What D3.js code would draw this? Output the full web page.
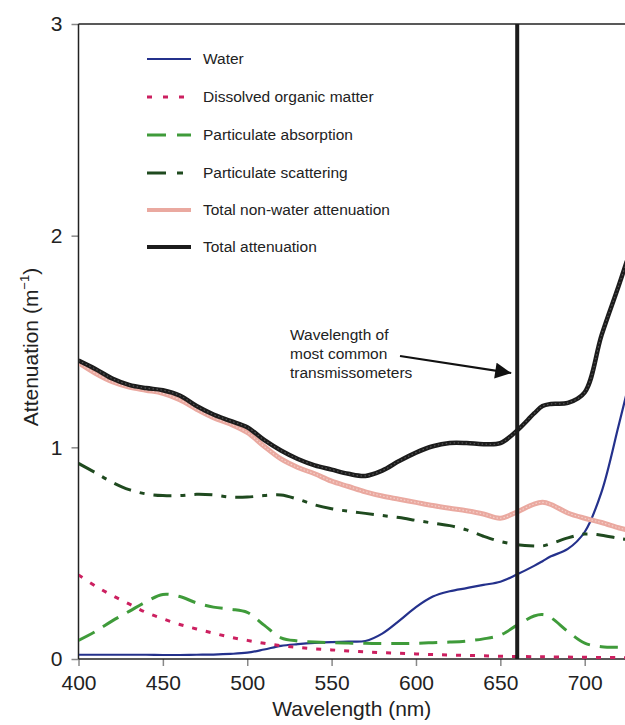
<!DOCTYPE html>
<html>
<head>
<meta charset="utf-8">
<script src="https://cdn.jsdelivr.net/npm/d3@7"></script>
<style>
  html, body { margin: 0; padding: 0; background: #fff; }
  svg { display: block; font-family: "Liberation Sans", Arial, Helvetica, sans-serif; }
</style>
</head>
<body>
<svg id="chart" width="625" height="725"></svg>
<script>
// ---------------- data ----------------
const wavelengths = [400,410,420,430,440,450,460,470,480,490,500,510,520,530,540,550,560,570,580,590,600,610,620,630,640,650,660,670,675,680,690,700,710,720,725];

const water = [0.020,0.020,0.020,0.020,0.020,0.019,0.019,0.020,0.021,0.024,0.030,0.045,0.062,0.070,0.076,0.080,0.082,0.085,0.120,0.180,0.245,0.295,0.320,0.335,0.350,0.365,0.400,0.440,0.462,0.485,0.520,0.600,0.790,1.100,1.260];

const dissolvedOrganic = [0.397,0.345,0.300,0.260,0.220,0.190,0.163,0.142,0.122,0.103,0.088,0.074,0.063,0.055,0.048,0.043,0.038,0.034,0.030,0.027,0.024,0.021,0.019,0.017,0.015,0.013,0.012,0.011,0.011,0.010,0.009,0.008,0.007,0.007,0.006];

const particulateAbsorption = [0.088,0.130,0.180,0.225,0.270,0.305,0.295,0.265,0.245,0.235,0.220,0.160,0.100,0.085,0.080,0.077,0.075,0.074,0.073,0.073,0.074,0.077,0.080,0.085,0.095,0.113,0.160,0.203,0.210,0.195,0.130,0.075,0.058,0.055,0.055];

const particulateScattering = [0.924,0.880,0.835,0.800,0.780,0.772,0.772,0.778,0.775,0.765,0.765,0.772,0.775,0.755,0.728,0.710,0.698,0.688,0.678,0.668,0.655,0.642,0.630,0.610,0.580,0.555,0.540,0.534,0.534,0.545,0.572,0.590,0.585,0.570,0.565];

const totalNonWater = [1.400,1.350,1.310,1.285,1.270,1.255,1.225,1.180,1.140,1.110,1.070,1.005,0.945,0.905,0.875,0.840,0.815,0.790,0.770,0.755,0.740,0.725,0.712,0.700,0.685,0.665,0.695,0.732,0.740,0.730,0.690,0.665,0.645,0.620,0.610];

const totalAttenuation = [1.410,1.370,1.325,1.295,1.280,1.270,1.245,1.195,1.155,1.125,1.095,1.035,0.985,0.945,0.915,0.895,0.875,0.865,0.890,0.935,0.975,1.005,1.020,1.020,1.015,1.020,1.080,1.160,1.195,1.205,1.210,1.260,1.530,1.760,1.880];

const xTicks = [400,450,500,550,600,650,700];
const yTicks = [0,1,2,3];
const markerWavelength = 660;

const seriesNames = ["Water","Dissolved organic matter","Particulate absorption","Particulate scattering","Total non-water attenuation","Total attenuation"];
const seriesValues = [water, dissolvedOrganic, particulateAbsorption, particulateScattering, totalNonWater, totalAttenuation];
const seriesColors = ["#24318c","#cc2060","#3f9b3a","#1f4a1f","#eaa9a0","#1c1c1c"];
const seriesDash = [null,"5,9","18,10","18,9,5,9",null,null];
const seriesWidth = [2.2,3,3,3,5,4.5];

const annotationLines = ["Wavelength of","most common","transmissometers"];

// ---------------- drawing ----------------
const svg = d3.select("#chart");
const x = d3.scaleLinear().domain([400, 724]).range([78.5, 625.2]);
const y = d3.scaleLinear().domain([0, 3]).range([659, 24]);

svg.append("defs").append("clipPath").attr("id","plotclip")
  .append("rect").attr("x", 79).attr("y", 0).attr("width", 546).attr("height", 659);

svg.append("defs").append("marker")
  .attr("id","arrowhead").attr("viewBox","0 0 10 10")
  .attr("refX",10).attr("refY",5)
  .attr("markerWidth",18).attr("markerHeight",16)
  .attr("markerUnits","userSpaceOnUse")
  .attr("orient","auto")
  .append("path").attr("d","M0,0 L10,5 L0,10 Z").attr("fill","#111");

// axes
const xAxis = d3.axisBottom(x).tickValues(xTicks).tickSize(7).tickPadding(9).tickSizeOuter(0).tickFormat(d3.format("d"));
const gx = svg.append("g").attr("transform", `translate(0,${y(0)})`).call(xAxis);
gx.select(".domain").remove();
gx.selectAll(".tick line").attr("stroke","#888").attr("stroke-width",1.5);
gx.selectAll(".tick text").attr("font-size", 21).attr("fill","#222");

const yAxis = d3.axisLeft(y).tickValues(yTicks).tickSize(7).tickPadding(9).tickSizeOuter(0).tickFormat(d3.format("d"));
const gy = svg.append("g").attr("transform", `translate(${x(400)},0)`).call(yAxis);
gy.select(".domain").remove();
gy.selectAll(".tick line").attr("stroke","#888").attr("stroke-width",1.5);
gy.selectAll(".tick text").attr("font-size", 21).attr("fill","#222");

// frame
svg.append("line").attr("x1", x(400)).attr("x2", x(400)).attr("y1", y(3)).attr("y2", y(0))
  .attr("stroke","#222").attr("stroke-width",1.5);
svg.append("line").attr("x1", x(400)).attr("x2", 625).attr("y1", y(0)).attr("y2", y(0))
  .attr("stroke","#222").attr("stroke-width",1.5);
svg.append("line").attr("x1", x(400)).attr("x2", 625).attr("y1", y(3)).attr("y2", y(3))
  .attr("stroke","#222").attr("stroke-width",1.5);

// curves
const plot = svg.append("g").attr("clip-path","url(#plotclip)");
const line = d3.line().x((d, j) => x(wavelengths[j])).y(d => y(d)).curve(d3.curveCatmullRom.alpha(0.5));
seriesValues.forEach((vals, i) => {
  const p = plot.append("path").datum(vals)
    .attr("d", line)
    .attr("fill","none")
    .attr("stroke", seriesColors[i])
    .attr("stroke-width", seriesWidth[i])
    .attr("stroke-linejoin","round");
  if (seriesDash[i]) p.attr("stroke-dasharray", seriesDash[i]);
  if (i === 4) {
    plot.append("path").datum(vals).attr("d", line).attr("fill","none")
      .attr("stroke","#f4d0ca").attr("stroke-width",1.2).attr("stroke-dasharray","1.5,2");
  }
  if (i === 5) {
    plot.append("path").datum(vals).attr("d", line).attr("fill","none")
      .attr("stroke","#555").attr("stroke-width",1.2).attr("stroke-dasharray","1.5,2.5");
  }
});

// vertical marker
svg.append("line")
  .attr("x1", x(markerWavelength)).attr("x2", x(markerWavelength))
  .attr("y1", y(3)).attr("y2", y(0))
  .attr("stroke","#1c1c1c").attr("stroke-width",4);

// legend
const legendY = [59, 97, 135, 173, 210, 247];
seriesNames.forEach((name, i) => {
  const g = svg.append("g");
  const l = g.append("line").attr("x1",147).attr("x2",191)
    .attr("y1",legendY[i]).attr("y2",legendY[i])
    .attr("stroke",seriesColors[i]).attr("stroke-width", Math.min(seriesWidth[i],4));
  if (seriesDash[i]) l.attr("stroke-dasharray", i === 1 ? "5,11" : (i === 2 ? "19,11" : "19,11,6,20"));
  g.append("text").attr("x",203).attr("y",legendY[i]).attr("dy","0.35em")
    .attr("font-size",15.5).attr("fill","#222").text(name);
});

// annotation
annotationLines.forEach((t, i) => {
  svg.append("text").attr("x", 290).attr("y", 335 + i*19).attr("dy","0.35em")
    .attr("font-size",15.5).attr("fill","#222").text(t);
});
svg.append("line").attr("x1",400).attr("y1",356).attr("x2",x(markerWavelength)-6).attr("y2",373)
  .attr("stroke","#111").attr("stroke-width",2.2).attr("marker-end","url(#arrowhead)");

// axis titles
svg.append("text").attr("x", (x(400)+625)/2).attr("y", 709).attr("dy","0.35em")
  .attr("text-anchor","middle").attr("font-size",21).attr("fill","#222").text("Wavelength (nm)");

const yt = svg.append("text")
  .attr("transform","translate(38,347) rotate(-90)")
  .attr("text-anchor","middle").attr("font-size",21).attr("fill","#222");
yt.append("tspan").text("Attenuation (m");
yt.append("tspan").attr("font-size",13).attr("dy",-9).text("−1");
yt.append("tspan").attr("dy",9).text(")");
</script>
</body>
</html>
